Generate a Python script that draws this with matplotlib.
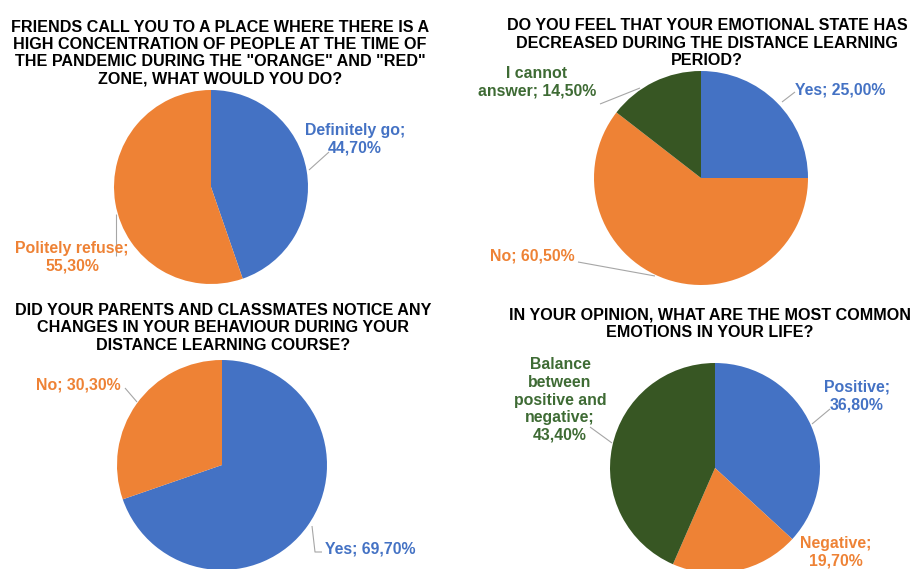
import matplotlib
matplotlib.use("Agg")
import matplotlib.pyplot as plt

W, H = 911, 569

BLUE = "#4472C4"
ORANGE = "#EE8235"
GREEN = "#375623"
GREEN_TXT = "#3E6B34"
LEADER = "#A6A6A6"

# ---- data -------------------------------------------------------------
titles = [
    "FRIENDS CALL YOU TO A PLACE WHERE THERE IS A\nHIGH CONCENTRATION OF PEOPLE AT THE TIME OF\n"
    "THE PANDEMIC DURING THE \"ORANGE\" AND \"RED\"\nZONE, WHAT WOULD YOU DO?",
    "DO YOU FEEL THAT YOUR EMOTIONAL STATE HAS\nDECREASED DURING THE DISTANCE LEARNING\nPERIOD?",
    "DID YOUR PARENTS AND CLASSMATES NOTICE ANY\nCHANGES IN YOUR BEHAVIOUR DURING YOUR\n"
    "DISTANCE LEARNING COURSE?",
    "IN YOUR OPINION, WHAT ARE THE MOST COMMON\nEMOTIONS IN YOUR LIFE?",
]

q1_labels = ["Definitely go", "Politely refuse"]
q1_values = [44.7, 55.3]

q2_labels = ["Yes", "No", "I cannot answer"]
q2_values = [25.0, 60.5, 14.5]

q3_labels = ["Yes", "No"]
q3_values = [69.7, 30.3]

q4_labels = ["Positive", "Negative", "Balance between positive and negative"]
q4_values = [36.8, 19.7, 43.4]


def pct(v):
    return f"{v:.2f}%".replace(".", ",")


def Y(y):
    return H - y


fig = plt.figure(figsize=(W / 100, H / 100), dpi=100)
ax = fig.add_axes([0, 0, 1, 1])
plt.rcParams["font.family"] = ["Liberation Sans", "DejaVu Sans"]

# layout: (center x, center y, radius, title x, title y, colors)
panels = [
    (q1_values, (211, 187), 97, (220, 53), [BLUE, ORANGE]),
    (q2_values, (701, 178), 107, (707, 43), [BLUE, ORANGE, GREEN]),
    (q3_values, (222, 465), 105, (223, 328), [BLUE, ORANGE]),
    (q4_values, (715, 468), 105, (710, 324), [BLUE, ORANGE, GREEN]),
]

for (vals, (cx, cy), r, (tx, ty), cols), title in zip(panels, titles):
    ax.pie(vals, colors=cols, startangle=90, counterclock=False,
           center=(cx, Y(cy)), radius=r, wedgeprops=dict(linewidth=0))
    ax.text(tx, Y(ty), title, ha="center", va="center", fontsize=11.6,
            fontweight="bold", color="black", linespacing=1.18)

lab = dict(ha="center", va="center", fontsize=11.4, fontweight="bold",
           linespacing=1.22)

# labels (text, position, colour, leader polyline)
labels = [
    (f"{q1_labels[0]};\n{pct(q1_values[0])}", (355, 139), BLUE,
     [(329, 152), (309, 170)]),
    (f"{q1_labels[1]};\n{pct(q1_values[1])}", (72, 257), ORANGE,
     [(116, 214), (116, 256)]),
    (f"{q2_labels[0]}; {pct(q2_values[0])}", (840, 90), BLUE,
     [(795, 92), (782, 102)]),
    (f"I cannot\nanswer; {pct(q2_values[2])}", (537, 82), GREEN_TXT,
     [(600, 104), (640, 88)]),
    (f"{q2_labels[1]}; {pct(q2_values[1])}", (532, 256), ORANGE,
     [(578, 262), (655, 276)]),
    (f"{q3_labels[1]}; {pct(q3_values[1])}", (78, 385), ORANGE,
     [(125, 388), (137, 402)]),
    (f"{q3_labels[0]}; {pct(q3_values[0])}", (370, 549), BLUE,
     [(312, 526), (315, 552), (322, 552)]),
    (f"{q4_labels[0]};\n{pct(q4_values[0])}", (857, 396), BLUE,
     [(830, 409), (812, 424)]),
    (f"{q4_labels[1]};\n{pct(q4_values[1])}", (836, 552), ORANGE, None),
    (f"Balance\nbetween\npositive and\nnegative;\n{pct(q4_values[2])}",
     (560, 400), GREEN_TXT, [(590, 427), (612, 443)]),
]

for text, (x, y), col, line in labels:
    ax.text(x, Y(y), text, color=col, **lab)
    if line:
        ax.plot([p[0] for p in line], [Y(p[1]) for p in line],
                color=LEADER, lw=0.8, solid_capstyle="butt")

ax.set_xlim(0, W)
ax.set_ylim(0, H)
ax.set_aspect("equal")
ax.axis("off")

fig.savefig("out.png", dpi=100)
